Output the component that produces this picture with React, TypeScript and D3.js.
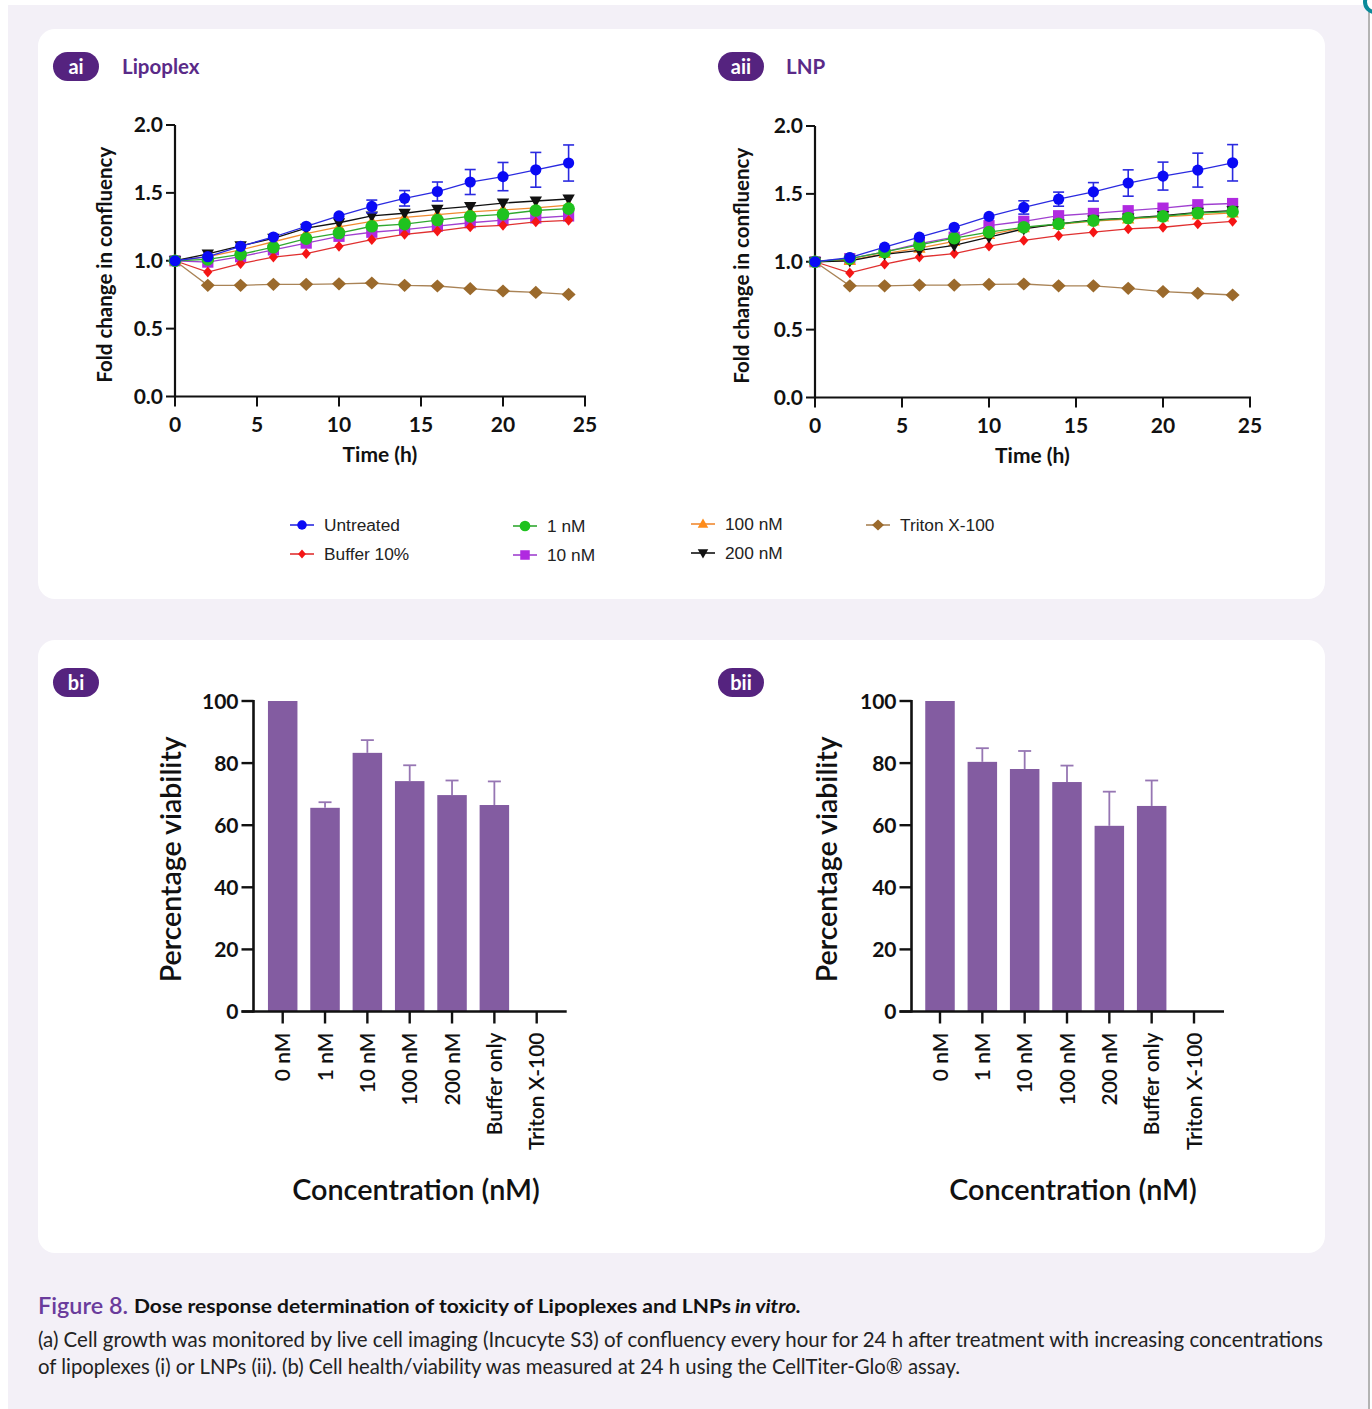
import React from 'react';
import * as d3 from 'd3';

// ---------- DATA ----------
const times = [0, 2, 4, 6, 8, 10, 12, 14, 16, 18, 20, 22, 24];
const xTicks = [0, 5, 10, 15, 20, 25];
const yTicks = [0, 0.5, 1.0, 1.5, 2.0];

const seriesNames = ['Untreated', 'Buffer 10%', '1 nM', '10 nM', '100 nM', '200 nM', 'Triton X-100'];

const lipoUntreated = [1.0, 1.03, 1.106, 1.175, 1.254, 1.33, 1.40, 1.46, 1.51, 1.58, 1.62, 1.67, 1.72];
const lipoUntreatedErr = [0, 0.01, 0.01, 0.015, 0.02, 0.025, 0.047, 0.057, 0.07, 0.092, 0.104, 0.128, 0.133];
const lipoBuffer = [1.0, 0.917, 0.979, 1.027, 1.052, 1.106, 1.155, 1.195, 1.219, 1.249, 1.261, 1.286, 1.298];
const lipo1nM = [1.0, 1.01, 1.047, 1.10, 1.163, 1.204, 1.254, 1.27, 1.30, 1.327, 1.342, 1.37, 1.384];
const lipo10nM = [1.0, 0.99, 1.03, 1.08, 1.13, 1.18, 1.21, 1.23, 1.255, 1.28, 1.30, 1.315, 1.33];
const lipo100nM = [1.0, 1.03, 1.08, 1.14, 1.20, 1.25, 1.29, 1.32, 1.34, 1.36, 1.375, 1.39, 1.41];
const lipo200nM = [1.0, 1.05, 1.11, 1.165, 1.24, 1.28, 1.33, 1.35, 1.38, 1.40, 1.425, 1.44, 1.455];
const lipoTriton = [1.0, 0.819, 0.819, 0.826, 0.826, 0.83, 0.836, 0.819, 0.814, 0.794, 0.777, 0.767, 0.752];

const lnpUntreated = [1.0, 1.031, 1.108, 1.181, 1.254, 1.334, 1.40, 1.461, 1.515, 1.58, 1.631, 1.675, 1.729];
const lnpUntreatedErr = [0, 0.01, 0.01, 0.015, 0.02, 0.03, 0.049, 0.052, 0.068, 0.097, 0.103, 0.125, 0.134];
const lnpBuffer = [1.0, 0.918, 0.982, 1.035, 1.06, 1.115, 1.157, 1.193, 1.218, 1.242, 1.254, 1.279, 1.298];
const lnp1nM = [1.0, 1.023, 1.072, 1.125, 1.174, 1.218, 1.254, 1.279, 1.303, 1.322, 1.334, 1.359, 1.369];
const lnp10nM = [1.0, 1.023, 1.072, 1.133, 1.181, 1.266, 1.298, 1.339, 1.356, 1.376, 1.395, 1.42, 1.429];
const lnp100nM = [1.0, 1.01, 1.06, 1.10, 1.15, 1.20, 1.25, 1.275, 1.30, 1.315, 1.33, 1.345, 1.36];
const lnp200nM = [1.0, 1.006, 1.055, 1.084, 1.12, 1.181, 1.242, 1.279, 1.308, 1.322, 1.34, 1.364, 1.376];
const lnpTriton = [1.0, 0.823, 0.823, 0.828, 0.828, 0.833, 0.836, 0.823, 0.823, 0.804, 0.78, 0.768, 0.755];

const barCategories = ['0 nM', '1 nM', '10 nM', '100 nM', '200 nM', 'Buffer only', 'Triton X-100'];
const barTicks = [0, 20, 40, 60, 80, 100];
const lipoViability = [100, 65.6, 83.3, 74.2, 69.7, 66.5, 0];
const lipoViabilityErr = [0, 1.8, 4.1, 5.1, 4.7, 7.6, 0];
const lnpViability = [100, 80.4, 78.1, 73.9, 59.8, 66.2, 0];
const lnpViabilityErr = [0, 4.4, 5.8, 5.3, 11, 8.2, 0];

// ---------- STYLE ----------
type Shape = 'circle' | 'circleBig' | 'diamondSmall' | 'diamondBig' | 'square' | 'triUp' | 'triDown';
const seriesStyle: Record<string, { color: string; line: string; shape: Shape }> = {
  'Untreated': { color: '#0a0af5', line: '#2a2ae0', shape: 'circle' },
  'Buffer 10%': { color: '#f51515', line: '#e03030', shape: 'diamondSmall' },
  '1 nM': { color: '#1fc21f', line: '#30a830', shape: 'circleBig' },
  '10 nM': { color: '#b02ae0', line: '#a040d0', shape: 'square' },
  '100 nM': { color: '#ff8c1a', line: '#f08a30', shape: 'triUp' },
  '200 nM': { color: '#111111', line: '#111111', shape: 'triDown' },
  'Triton X-100': { color: '#9b6a2c', line: '#a98356', shape: 'diamondBig' },
};
const drawOrder = ['Triton X-100', '10 nM', 'Buffer 10%', '100 nM', '200 nM', '1 nM', 'Untreated'];

function markerPath(shape: Shape, k = 1): string {
  switch (shape) {
    case 'circle': { const r = 5.6 * k; return `M${-r},0a${r},${r} 0 1,0 ${2 * r},0a${r},${r} 0 1,0 ${-2 * r},0Z`; }
    case 'circleBig': { const r = 6.3 * k; return `M${-r},0a${r},${r} 0 1,0 ${2 * r},0a${r},${r} 0 1,0 ${-2 * r},0Z`; }
    case 'diamondSmall': { const w = 4.6 * k, h = 5.4 * k; return `M0,${-h}L${w},0L0,${h}L${-w},0Z`; }
    case 'diamondBig': { const w = 7 * k, h = 6.6 * k; return `M0,${-h}L${w},0L0,${h}L${-w},0Z`; }
    case 'square': { const s = 5.6 * k; return `M${-s},${-s}H${s}V${s}H${-s}Z`; }
    case 'triUp': { const w = 6.2 * k; return `M0,${-6.5 * k}L${w},${4.5 * k}L${-w},${4.5 * k}Z`; }
    case 'triDown': { const w = 6.2 * k; return `M0,${6.5 * k}L${w},${-4.5 * k}L${-w},${-4.5 * k}Z`; }
  }
  return '';
}

const LATO = 'Lato, "Noto Sans", sans-serif';
const ARIAL = '"Liberation Sans", Arial, sans-serif';

type LineChartProps = {
  x0: number; x1: number; yTop: number; yBottom: number;
  data: Record<string, number[]>; err: number[];
  yTitleX: number;
};

function LineChart({ x0, x1, yTop, yBottom, data, err, yTitleX }: LineChartProps) {
  const x = d3.scaleLinear().domain([0, 25]).range([x0, x1]);
  const y = d3.scaleLinear().domain([0, 2]).range([yBottom, yTop]);
  const line = d3.line<number>().x((_, i) => x(times[i])).y((d) => y(d));
  const fmt = d3.format('.1f');
  return (
    <g>
      <line x1={x0} x2={x0} y1={yTop} y2={yBottom + 1} stroke="#111" strokeWidth={2.2} />
      <line x1={x0 - 1} x2={x(25) + 1} y1={yBottom} y2={yBottom} stroke="#111" strokeWidth={2.2} />
      {yTicks.map((t) => (
        <g key={'y' + t}>
          <line x1={x0 - 9} x2={x0} y1={y(t)} y2={y(t)} stroke="#111" strokeWidth={2} />
          <text x={x0 - 12} y={y(t)} dy="0.35em" textAnchor="end" fontFamily={LATO} fontWeight={700} fontSize={21} fill="#111">{fmt(t)}</text>
        </g>
      ))}
      {xTicks.map((t) => (
        <g key={'x' + t}>
          <line x1={x(t)} x2={x(t)} y1={yBottom} y2={yBottom + 10} stroke="#111" strokeWidth={2} />
          <text x={x(t)} y={yBottom + 35} textAnchor="middle" fontFamily={LATO} fontWeight={700} fontSize={21} fill="#111">{t}</text>
        </g>
      ))}
      <text x={(x0 + x(25)) / 2} y={yBottom + 65} textAnchor="middle" fontFamily={LATO} fontWeight={700} fontSize={21} fill="#111">Time (h)</text>
      <text transform={`translate(${yTitleX},${(yTop + yBottom) / 2 + 4}) rotate(-90)`} textAnchor="middle" dy="0.35em" fontFamily={LATO} fontWeight={700} fontSize={20.5} fill="#111">Fold change in confluency</text>
      {drawOrder.map((name) => {
        const st = seriesStyle[name];
        const vals = data[name];
        return (
          <g key={name}>
            {name === 'Untreated' && vals.map((v, i) => err[i] > 0.03 ? (
              <g key={'e' + i} stroke={st.line} strokeWidth={1.6}>
                <line x1={x(times[i])} x2={x(times[i])} y1={y(v - err[i])} y2={y(v + err[i])} />
                <line x1={x(times[i]) - 5.5} x2={x(times[i]) + 5.5} y1={y(v + err[i])} y2={y(v + err[i])} />
                <line x1={x(times[i]) - 5.5} x2={x(times[i]) + 5.5} y1={y(v - err[i])} y2={y(v - err[i])} />
              </g>
            ) : null)}
            <path d={line(vals) || ''} fill="none" stroke={st.line} strokeWidth={1.3} />
            {vals.map((v, i) => (
              <path key={i} d={markerPath(st.shape)} transform={`translate(${x(times[i])},${y(v)})`} fill={st.color} />
            ))}
          </g>
        );
      })}
    </g>
  );
}

type BarChartProps = {
  axisX: number; firstX: number; lastX: number; yTop: number; yBottom: number;
  values: number[]; errs: number[]; yTitleX: number; titleX: number;
};

function BarChart({ axisX, firstX, lastX, yTop, yBottom, values, errs, yTitleX, titleX }: BarChartProps) {
  const x = d3.scalePoint<string>().domain(barCategories).range([firstX, lastX]);
  const y = d3.scaleLinear().domain([0, 100]).range([yBottom, yTop]);
  const bw = 29.5;
  return (
    <g>
      {values.map((v, i) => {
        const cx = x(barCategories[i]) as number;
        return v > 0 ? (
          <g key={i}>
            <rect x={cx - bw / 2} y={y(v)} width={bw} height={yBottom - y(v)} fill="#835ca1" />
            {errs[i] > 0 && (
              <g stroke="#9676b3" strokeWidth={1.8}>
                <line x1={cx} x2={cx} y1={y(v)} y2={y(v + errs[i])} />
                <line x1={cx - 6.5} x2={cx + 6.5} y1={y(v + errs[i])} y2={y(v + errs[i])} />
              </g>
            )}
          </g>
        ) : null;
      })}
      <line x1={axisX} x2={axisX} y1={yTop - 1} y2={yBottom + 1} stroke="#111" strokeWidth={2.6} />
      <line x1={axisX - 12} x2={lastX + 30} y1={yBottom} y2={yBottom} stroke="#111" strokeWidth={2.6} />
      {barTicks.map((t) => (
        <g key={t}>
          <line x1={axisX - 12} x2={axisX} y1={y(t)} y2={y(t)} stroke="#111" strokeWidth={2.4} />
          <text x={axisX - 15} y={y(t)} dy="0.36em" textAnchor="end" fontFamily={LATO} fontWeight={700} fontSize={21} fill="#111">{t}</text>
        </g>
      ))}
      {barCategories.map((c) => {
        const cx = x(c) as number;
        return (
          <g key={c}>
            <line x1={cx} x2={cx} y1={yBottom} y2={yBottom + 12} stroke="#111" strokeWidth={2.4} />
            <text transform={`translate(${cx},${yBottom + 21}) rotate(-90)`} dy="0.36em" textAnchor="end" fontFamily={LATO} fontWeight={600} fontSize={21} fill="#111">{c}</text>
          </g>
        );
      })}
      <text transform={`translate(${yTitleX},${(yTop + yBottom) / 2 + 3}) rotate(-90)`} dy="0.35em" textAnchor="middle" fontFamily={LATO} fontWeight={600} fontSize={28.5} fill="#111">Percentage viability</text>
      <text x={titleX} y={1200} textAnchor="middle" fontFamily={LATO} fontWeight={600} fontSize={28.8} fill="#111">Concentration (nM)</text>
    </g>
  );
}

function Badge({ x, y, w, label }: { x: number; y: number; w: number; label: string }) {
  return (
    <g>
      <rect x={x} y={y} width={w} height={29} rx={14.5} fill="#55237f" />
      <text x={x + w / 2} y={y + 14.5} dy="0.35em" textAnchor="middle" fontFamily={LATO} fontWeight={700} fontSize={20} fill="#fff">{label}</text>
    </g>
  );
}

const legendItems: { name: string; x: number; y: number }[] = [
  { name: 'Untreated', x: 302, y: 525 },
  { name: 'Buffer 10%', x: 302, y: 554 },
  { name: '1 nM', x: 525, y: 526 },
  { name: '10 nM', x: 525, y: 555 },
  { name: '100 nM', x: 703, y: 524 },
  { name: '200 nM', x: 703, y: 553 },
  { name: 'Triton X-100', x: 878, y: 525 },
];

export default function App() {
  const lipoData: Record<string, number[]> = {
    'Untreated': lipoUntreated, 'Buffer 10%': lipoBuffer, '1 nM': lipo1nM, '10 nM': lipo10nM,
    '100 nM': lipo100nM, '200 nM': lipo200nM, 'Triton X-100': lipoTriton,
  };
  const lnpData: Record<string, number[]> = {
    'Untreated': lnpUntreated, 'Buffer 10%': lnpBuffer, '1 nM': lnp1nM, '10 nM': lnp10nM,
    '100 nM': lnp100nM, '200 nM': lnp200nM, 'Triton X-100': lnpTriton,
  };
  return (
    <svg width={1372} height={1409} style={{ position: 'absolute', left: 0, top: 0, display: 'block' }}>
      <rect x={0} y={0} width={1372} height={1409} fill="#ffffff" />
      <rect x={8} y={5} width={1360} height={1404} fill="#f3f0f7" />
      <line x1={1369} x2={1369} y1={8} y2={1409} stroke="#9a9a9a" strokeWidth={1.5} />
      <circle cx={1375} cy={2} r={10} fill="#fff" stroke="#0b8a9a" strokeWidth={4} />

      <rect x={38} y={29} width={1287} height={570} rx={17} fill="#ffffff" />
      <rect x={38} y={640} width={1287} height={613} rx={17} fill="#ffffff" />

      <Badge x={53} y={52} w={46} label="ai" />
      <text x={122} y={67} dy="0.35em" fontFamily={LATO} fontWeight={700} fontSize={20.5} fill="#5a2a88">Lipoplex</text>
      <Badge x={718} y={52} w={46} label="aii" />
      <text x={786} y={67} dy="0.35em" fontFamily={LATO} fontWeight={700} fontSize={20.5} fill="#5a2a88">LNP</text>
      <Badge x={53} y={668} w={46} label="bi" />
      <Badge x={718} y={668} w={46} label="bii" />

      <LineChart x0={175} x1={585} yTop={125} yBottom={396.5} data={lipoData} err={lipoUntreatedErr} yTitleX={105} />
      <LineChart x0={815} x1={1250} yTop={126} yBottom={397.5} data={lnpData} err={lnpUntreatedErr} yTitleX={742} />

      {legendItems.map((it) => {
        const st = seriesStyle[it.name];
        return (
          <g key={it.name}>
            <line x1={it.x - 12} x2={it.x + 12} y1={it.y} y2={it.y} stroke={st.line} strokeWidth={1.6} />
            <path d={markerPath(st.shape, 0.85)} transform={`translate(${it.x},${it.y})`} fill={st.color} />
            <text x={it.x + 22} y={it.y} dy="0.36em" fontFamily={ARIAL} fontSize={17.3} fill="#222">{it.name}</text>
          </g>
        );
      })}

      <BarChart axisX={253.5} firstX={282.7} lastX={536.7} yTop={701} yBottom={1011.5} values={lipoViability} errs={lipoViabilityErr} yTitleX={171} titleX={416} />
      <BarChart axisX={911.5} firstX={940} lastX={1194} yTop={701} yBottom={1011.5} values={lnpViability} errs={lnpViabilityErr} yTitleX={827} titleX={1073} />

      <text x={38} y={1314} fontFamily={LATO} fontWeight={600} fontSize={23} fill="#6a3c9c" textLength={90} lengthAdjust="spacingAndGlyphs">Figure 8.</text>
      <text x={134} y={1313} fontFamily={LATO} fontWeight={700} fontSize={19.5} fill="#111" textLength={597} lengthAdjust="spacingAndGlyphs">Dose response determination of toxicity of Lipoplexes and LNPs</text>
      <text x={735} y={1313} fontFamily={LATO} fontWeight={700} fontStyle="italic" fontSize={19.5} fill="#111" textLength={66} lengthAdjust="spacingAndGlyphs">in vitro.</text>
      <text x={38} y={1347} fontFamily={LATO} fontSize={20.5} fill="#222" textLength={1285} lengthAdjust="spacingAndGlyphs">(a) Cell growth was monitored by live cell imaging (Incucyte S3) of confluency every hour for 24 h after treatment with increasing concentrations</text>
      <text x={38} y={1374} fontFamily={LATO} fontSize={20.5} fill="#222" textLength={922} lengthAdjust="spacingAndGlyphs">of lipoplexes (i) or LNPs (ii). (b) Cell health/viability was measured at 24 h using the CellTiter-Glo® assay.</text>
    </svg>
  );
}
